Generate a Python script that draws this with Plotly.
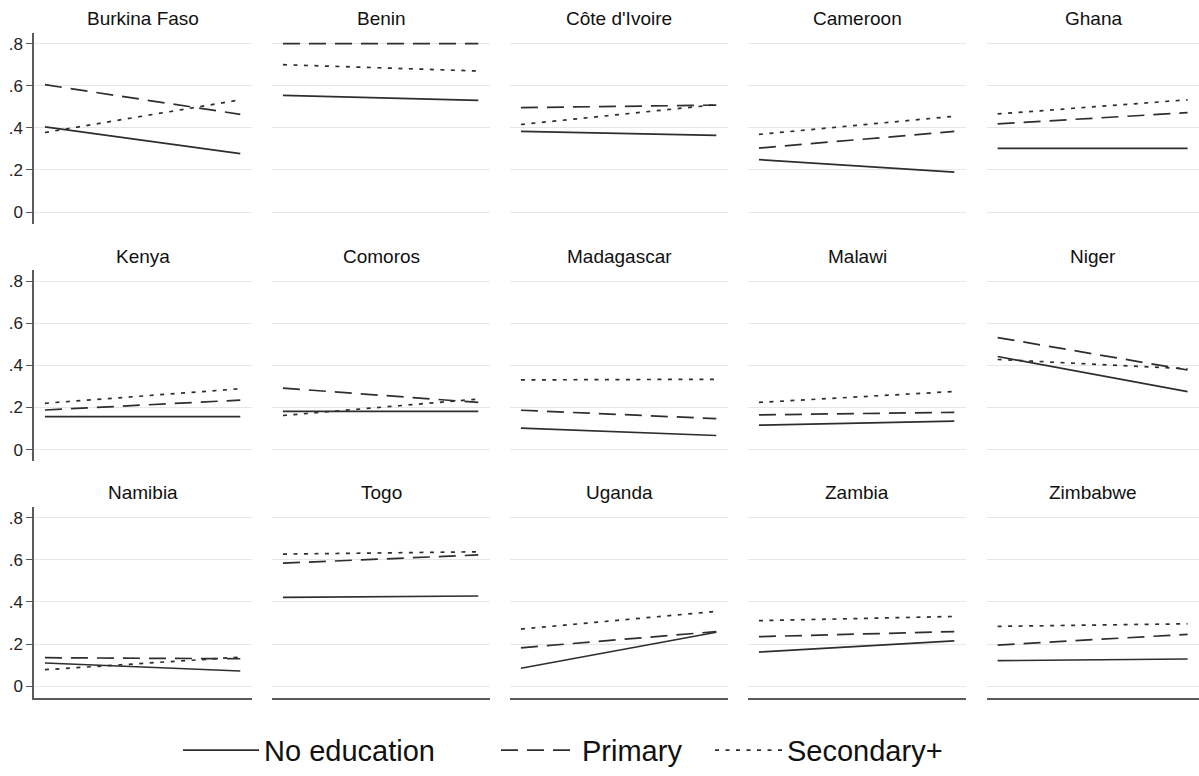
import plotly.graph_objects as go

# Country panels, in reading order (3 rows x 5 columns)
countries = ["Burkina Faso", "Benin", "Côte d'Ivoire", "Cameroon", "Ghana",
             "Kenya", "Comoros", "Madagascar", "Malawi", "Niger",
             "Namibia", "Togo", "Uganda", "Zambia", "Zimbabwe"]

# Two survey points per line: [first, second]
no_education = [[0.405, 0.278], [0.554, 0.530], [0.383, 0.364], [0.249, 0.190], [0.303, 0.303],
                [0.157, 0.157], [0.182, 0.182], [0.102, 0.067], [0.116, 0.135], [0.442, 0.275],
                [0.110, 0.072], [0.422, 0.428], [0.085, 0.256], [0.162, 0.215], [0.121, 0.129]]
primary = [[0.605, 0.464], [0.800, 0.800], [0.496, 0.508], [0.304, 0.383], [0.419, 0.472],
           [0.188, 0.235], [0.292, 0.224], [0.187, 0.147], [0.165, 0.177], [0.532, 0.378],
           [0.135, 0.130], [0.584, 0.623], [0.182, 0.259], [0.235, 0.259], [0.195, 0.246]]
secondary = [[0.378, 0.533], [0.700, 0.670], [0.416, 0.510], [0.369, 0.455], [0.466, 0.533],
             [0.220, 0.289], [0.162, 0.240], [0.331, 0.334], [0.224, 0.276], [0.428, 0.384],
             [0.078, 0.138], [0.627, 0.638], [0.271, 0.355], [0.311, 0.331], [0.284, 0.296]]

periods = [0, 1]
series_names = ["No education", "Primary", "Secondary+"]
y_tickvals = [0, 0.2, 0.4, 0.6, 0.8]
y_ticktext = ["0", ".2", ".4", ".6", ".8"]

W, H = 1199, 776
col_px = [(34, 252), (272, 490), (510, 728), (748, 966), (987, 1199)]
row_px = [(33, 226), (273, 466), (512, 705)]
title_px = [19, 259, 498]

line_color = "#2e2e2e"
axis_color = "#5a5a5a"
grid_color = "#e6e6e6"
font_family = "Liberation Sans, Arial, Helvetica, sans-serif"

dashes = ["solid", "17px,9px", "4px,6.5px"]
legend_ids = ["legend", "legend2", "legend3"]
# legend key placement: left edge (px) and key length (px)
legend_left = [178, 496, 710]
legend_keylen = [76, 76, 67]

fig = go.Figure()
layout = {}
annotations = []

for i, name in enumerate(countries):
    r, c = divmod(i, 5)
    k = i + 1
    xa = "x" if k == 1 else f"x{k}"
    ya = "y" if k == 1 else f"y{k}"
    for s, (vals, sname) in enumerate(zip([no_education, primary, secondary], series_names)):
        fig.add_trace(go.Scatter(
            x=periods, y=vals[i], mode="lines", name=sname,
            legendgroup=sname, showlegend=(i == 0), legend=legend_ids[s],
            line=dict(color=line_color, width=1.7, dash=dashes[s]),
            xaxis=xa, yaxis=ya, hoverinfo="skip"))

    x0, x1 = col_px[c]
    y0, y1 = row_px[r]
    layout[f"xaxis{'' if k == 1 else k}"] = dict(
        domain=[x0 / W, x1 / W], range=[-0.056, 1.06],
        showgrid=False, zeroline=False, showticklabels=False, ticks="",
        showline=(r == 2), linecolor=axis_color, linewidth=1.5,
        anchor=ya, fixedrange=True)
    layout[f"yaxis{'' if k == 1 else k}"] = dict(
        domain=[1 - y1 / H, 1 - y0 / H], range=[-0.055, 0.852],
        tickvals=y_tickvals, ticktext=y_ticktext,
        showticklabels=(c == 0), ticks="outside" if c == 0 else "",
        ticklen=6, tickwidth=1.2, tickcolor=axis_color,
        showgrid=True, gridcolor=grid_color, gridwidth=1,
        zeroline=False, showline=(c == 0), linecolor=axis_color, linewidth=1.5,
        tickfont=dict(size=17, color="#222", family=font_family),
        anchor=xa, fixedrange=True)
    annotations.append(dict(
        text=name, xref="paper", yref="paper",
        x=(x0 + x1) / 2 / W, y=1 - title_px[r] / H,
        xanchor="center", yanchor="middle", showarrow=False,
        font=dict(size=19, color="#111", family=font_family)))

for lid, left, keylen in zip(legend_ids, legend_left, legend_keylen):
    layout[lid] = dict(
        orientation="h", x=left / W, xanchor="left",
        y=1 - 758 / H, yanchor="middle",
        font=dict(size=29, color="#111", family=font_family),
        itemwidth=keylen, bgcolor="rgba(0,0,0,0)", borderwidth=0)

fig.update_layout(
    **layout,
    annotations=annotations,
    width=W, height=H,
    margin=dict(l=0, r=0, t=0, b=0),
    paper_bgcolor="white", plot_bgcolor="white",
    showlegend=True,
)

fig.write_html("out.html")
